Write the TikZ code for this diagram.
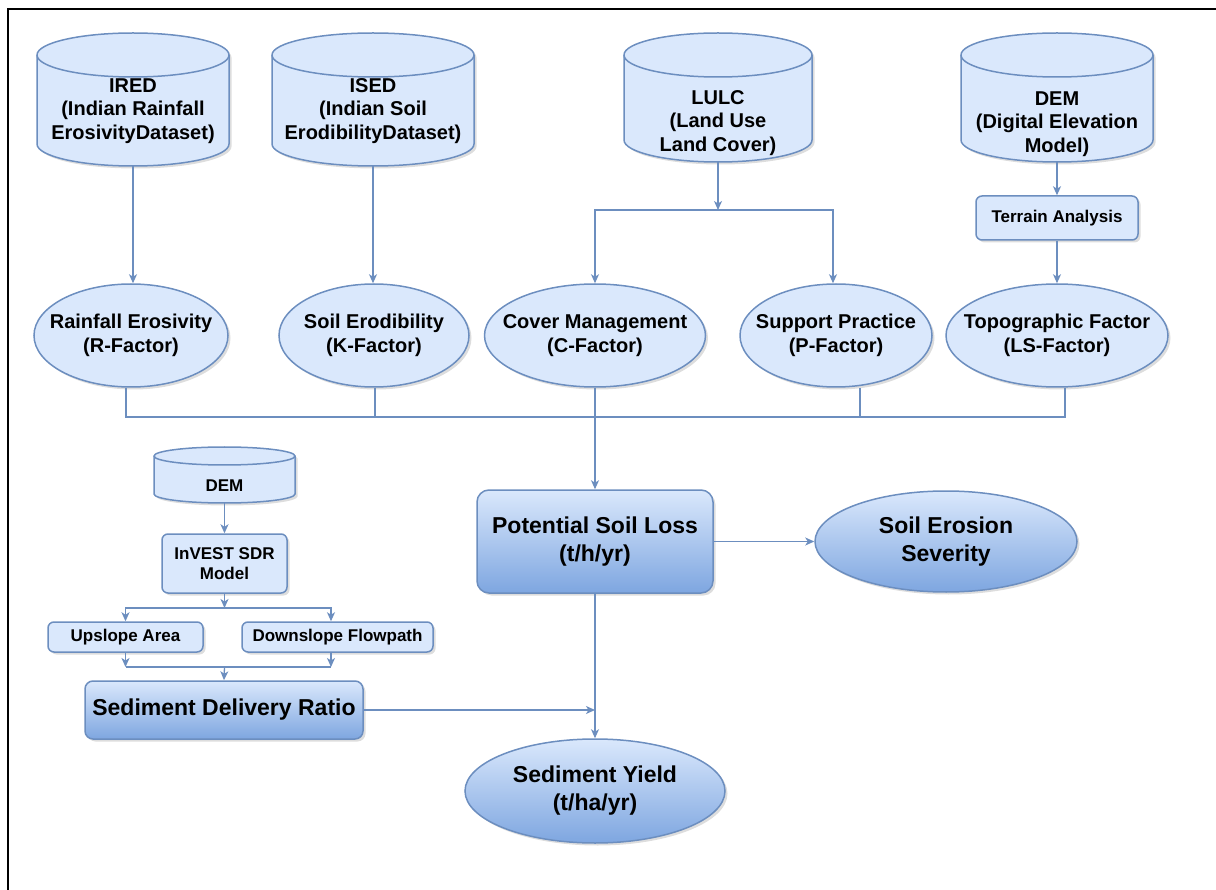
\documentclass[tikz,border=0pt]{standalone}
\usepackage{fontspec}
\setmainfont{Liberation Sans}
\usetikzlibrary{arrows.meta,shadows,shapes.geometric,calc}

\definecolor{fillblue}{HTML}{DAE8FC}
\definecolor{lineblue}{HTML}{6C8EBF}
\definecolor{deepblue}{HTML}{7EA6E0}

\tikzset{
  x=1pt, y=1pt,
  shapeline/.style={draw=lineblue, line width=1.5pt},
  shade/.style={drop shadow={opacity=0.22, shadow xshift=2.5pt, shadow yshift=-2.5pt, fill=black!60}},
  flat/.style={shapeline, fill=fillblue, shade},
  grad/.style={shapeline, top color=fillblue, bottom color=deepblue, shade},
  fa/.style={font=\fontsize{20}{23.5}\selectfont\bfseries, align=center},
  fs/.style={font=\fontsize{17}{20}\selectfont\bfseries, align=center},
  fl/.style={font=\fontsize{23}{28}\selectfont\bfseries, align=center},
  oval/.style={ellipse, flat, inner sep=0pt},
  goval/.style={ellipse, grad, inner sep=0pt},
  smallbox/.style={rectangle, rounded corners=6pt, flat, inner sep=0pt, align=center},
  bigbox/.style={rectangle, rounded corners=12pt, grad, inner sep=0pt, align=center},
  link/.style={draw=lineblue, line width=1.3pt},
  arr/.style={link, -{Stealth[length=9pt,width=8pt,inset=2.5pt]}},
}

% database drum: name, centre x, top y, bottom y, half width, cap radius
\newcommand\drum[6]{%
  \path[flat] (#2-#5,-#3-#6) -- (#2-#5,-#4+#6)
    arc[start angle=180,end angle=360,x radius=#5,y radius=#6]
    -- (#2+#5,-#3-#6)
    arc[start angle=0,end angle=180,x radius=#5,y radius=#6] -- cycle;
  \draw[shapeline] (#2-#5,-#3-#6) arc[start angle=180,end angle=360,x radius=#5,y radius=#6];
  \node[inner sep=0pt, minimum width={2*#5pt}, minimum height={(#4-#3)*1pt}] (#1) at (#2,-#3/2-#4/2) {};
}

\begin{document}
\begin{tikzpicture}
\useasboundingbox (0,0) rectangle (1216,-890);
\draw[line width=2pt] (8,-891) -- (8,-9) -- (1217,-9);

% data sources
\drum{ired}{133}{33}{166}{96}{22}
\node[fa] (ired-t) at (133,-111) {IRED\\(Indian Rainfall\\ErosivityDataset)};
\drum{ised}{373}{33}{166}{101}{22}
\node[fa] (ised-t) at (373,-111) {ISED\\(Indian Soil\\ErodibilityDataset)};
\drum{lulc}{718}{33}{162}{94}{22}
\node[fa] (lulc-t) at (718,-123) {LULC\\(Land Use\\Land Cover)};
\drum{dem}{1057}{33}{162}{96}{22}
\node[fa] (dem-t) at (1057,-124) {DEM\\(Digital Elevation\\Model)};

\node[smallbox, fs, minimum width=162pt, minimum height=44pt] (ta) at (1057,-218) {Terrain Analysis};

% USLE factors
\node[oval, minimum width=194pt, minimum height=103pt] (rf) at (131,-335.5) {};
\node[fa] (rf-t) at (rf) {Rainfall Erosivity\\(R-Factor)};
\node[oval, minimum width=190pt, minimum height=103pt] (kf) at (374,-335.5) {};
\node[fa] (kf-t) at (kf) {Soil Erodibility\\(K-Factor)};
\node[oval, minimum width=221pt, minimum height=103pt] (cf) at (595,-335.5) {};
\node[fa] (cf-t) at (cf) {Cover Management\\(C-Factor)};
\node[oval, minimum width=192pt, minimum height=103pt] (pf) at (836,-335.5) {};
\node[fa] (pf-t) at (pf) {Support Practice\\(P-Factor)};
\node[oval, minimum width=222pt, minimum height=103pt] (lsf) at (1057,-335.5) {};
\node[fa] (lsf-t) at (lsf) {Topographic Factor\\(LS-Factor)};

% results
\node[bigbox, fl, minimum width=236pt, minimum height=103pt] (psl) at (595,-541.5) {Potential Soil Loss\\(t/h/yr)};
\node[goval, minimum width=262pt, minimum height=101pt] (ses) at (946,-541.5) {};
\node[fl] (ses-t) at (ses) {Soil Erosion\\Severity};
\node[goval, minimum width=260pt, minimum height=104pt] (sy) at (595,-791) {};
\node[fl] (sy-t) at (sy) {Sediment Yield\\(t/ha/yr)};

% sediment delivery branch
\drum{dem2}{224.5}{447}{503}{70.5}{9}
\node[fs] (dem2-t) at (224.5,-486) {DEM};
\node[smallbox, fs, minimum width=125pt, minimum height=59pt] (inv) at (224.5,-563.5) {InVEST SDR\\Model};
\node[smallbox, fs, minimum width=155pt, minimum height=30pt] (up) at (125.5,-637) {Upslope Area};
\node[smallbox, fs, minimum width=191pt, minimum height=30pt] (dn) at (337.5,-637) {Downslope Flowpath};
\node[bigbox, fl, minimum width=278pt, minimum height=58pt, rounded corners=8pt] (sdr) at (224,-710) {Sediment Delivery Ratio};

% connectors: sources to factors
\draw[arr] (ired.south) -- (ired.south |- rf.north);
\draw[arr] (ised.south) -- (ised.south |- kf.north);
\coordinate (lj) at (718,-210);
\draw[arr] (lulc.south) -- (lj);
\draw[arr] (lj) -| (cf.north);
\draw[arr] (lj) -| ([xshift=-3pt]pf.north);
\draw[arr] (dem.south) -- (ta.north);
\draw[arr] (ta.south) -- (lsf.north);

% factors merge into soil loss
\coordinate (mj) at (595,-417);
\draw[link] ([xshift=-5pt]rf.south) |- (mj);
\draw[link] ([xshift=1pt]kf.south) |- (mj);
\draw[link] ([xshift=24pt]pf.south) |- (mj);
\draw[link] ([xshift=8pt]lsf.south) |- (mj);
\draw[link] (cf.south) -- (mj);
\draw[arr] (mj) -- (psl.north);
\draw[arr] (psl.east) -- (ses.west);
\draw[arr] (psl.south) -- (sy.north);

% sediment delivery connectors
\draw[arr] (dem2.south) -- (inv.north);
\coordinate (sj) at (224.5,-608);
\draw[arr] (inv.south) -- (sj);
\draw[arr] (sj) -| (up.north);
\draw[arr] (sj) -| ([xshift=-6.5pt]dn.north);
\coordinate (tj) at (224.5,-667);
\draw[arr] (up.south) -- (up.south |- tj);
\draw[arr] ([xshift=-6.5pt]dn.south) -- ([xshift=-6.5pt]dn.south |- tj);
\draw[link] (up.south |- tj) -- ([xshift=-6.5pt]dn.south |- tj);
\draw[arr] (tj) -- (sdr.north);
\draw[arr] (sdr.east) -- (sdr.east -| psl.south);
\end{tikzpicture}
\end{document}
